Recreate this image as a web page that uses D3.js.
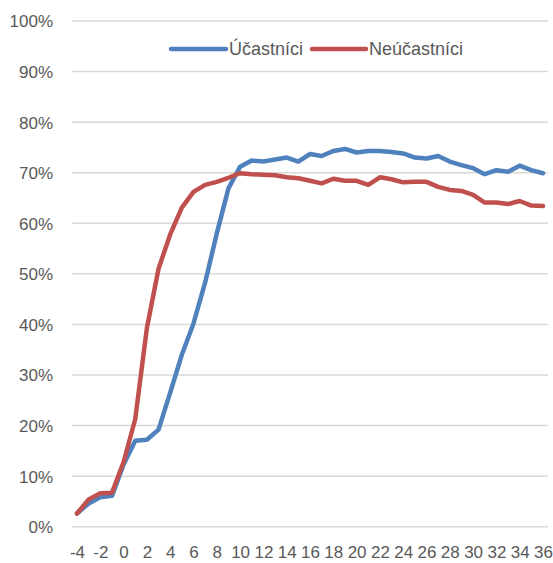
<!DOCTYPE html>
<html>
<head>
<meta charset="utf-8">
<script src="https://cdn.jsdelivr.net/npm/d3@7"></script>
<style>
  html, body { margin: 0; padding: 0; background: #fff; }
  svg { display: block; }
  text { font-family: "Liberation Sans", Arial, sans-serif; fill: #595959; }
</style>
</head>
<body>
<svg id="chart" width="553" height="563"></svg>
<script>
const months = d3.range(-4, 37);
const xTickLabels = d3.range(-4, 37, 2);
const yTickValues = [0, 0.1, 0.2, 0.3, 0.4, 0.5, 0.6, 0.7, 0.8, 0.9, 1.0];
const seriesNames = ["Účastníci", "Neúčastníci"];
const ucastnici = [
  2.6, 4.6, 5.8, 6.1, 12.3, 17.0, 17.2, 19.2, 26.5, 34.0, 40.2, 48.3, 58.0, 66.9,
  71.2, 72.4, 72.2, 72.6, 73.0, 72.2, 73.7, 73.3, 74.3, 74.7, 74.0, 74.3, 74.3,
  74.1, 73.8, 73.0, 72.8, 73.3, 72.2, 71.5, 70.9, 69.7, 70.5, 70.2, 71.4, 70.5, 69.9
];
const neucastnici = [
  2.6, 5.4, 6.6, 6.7, 12.8, 21.3, 39.3, 51.0, 57.8, 63.1, 66.2, 67.6, 68.2, 69.0,
  69.9, 69.7, 69.6, 69.5, 69.1, 68.9, 68.4, 67.9, 68.8, 68.4, 68.4, 67.6, 69.1,
  68.7, 68.1, 68.2, 68.2, 67.2, 66.6, 66.4, 65.6, 64.1, 64.1, 63.8, 64.4, 63.5, 63.4
];
const colors = ["#4f81bd", "#c0504d"];

const svg = d3.select("#chart");
const x = d3.scaleLinear().domain([-4, 36]).range([77, 543]);
const y = d3.scaleLinear().domain([0, 1]).range([526.7, 21]);
const gridX0 = 72, gridX1 = 548;

// gridlines
svg.append("g").selectAll("line").data(yTickValues).join("line")
  .attr("x1", gridX0).attr("x2", gridX1)
  .attr("y1", d => y(d)).attr("y2", d => y(d))
  .attr("stroke", "#d9d9d9").attr("stroke-width", 1.5);

// y axis labels
const yAxis = d3.axisLeft(y).tickValues(yTickValues).tickFormat(d3.format(".0%")).tickSize(0).tickPadding(0);
const gy = svg.append("g").attr("transform", "translate(53,0)").call(yAxis);
gy.select(".domain").remove();
gy.selectAll("text").attr("font-size", 17).attr("fill", "#595959")
  .attr("font-family", "'Liberation Sans', Arial, sans-serif").attr("dy", "0.35em");

// x axis labels
const xAxis = d3.axisBottom(x).tickValues(xTickLabels).tickFormat(d3.format("d")).tickSize(0).tickPadding(0);
const gx = svg.append("g").attr("transform", "translate(0,546)").call(xAxis);
gx.select(".domain").remove();
gx.selectAll("text").attr("font-size", 17).attr("fill", "#595959")
  .attr("font-family", "'Liberation Sans', Arial, sans-serif").attr("dy", "0.71em")
  .text(d => d < 0 ? "-" + Math.abs(d) : d);

// lines
const line = d3.line().x((d, i) => x(months[i])).y(d => y(d / 100));
[ucastnici, neucastnici].forEach((s, k) => {
  svg.append("path").datum(s)
    .attr("d", line)
    .attr("fill", "none")
    .attr("stroke", colors[k])
    .attr("stroke-width", 4.5)
    .attr("stroke-linejoin", "round")
    .attr("stroke-linecap", "round");
});

// legend
const legendItems = [
  { x1: 171, x2: 226, tx: 229 },
  { x1: 312, x2: 366, tx: 369 }
];
const ly = 49;
legendItems.forEach((it, k) => {
  svg.append("line").attr("x1", it.x1).attr("x2", it.x2).attr("y1", ly).attr("y2", ly)
    .attr("stroke", colors[k]).attr("stroke-width", 4.5).attr("stroke-linecap", "round");
  svg.append("text").attr("x", it.tx).attr("y", ly).attr("dy", "0.35em")
    .attr("font-size", 18).text(seriesNames[k]);
});
</script>
</body>
</html>
